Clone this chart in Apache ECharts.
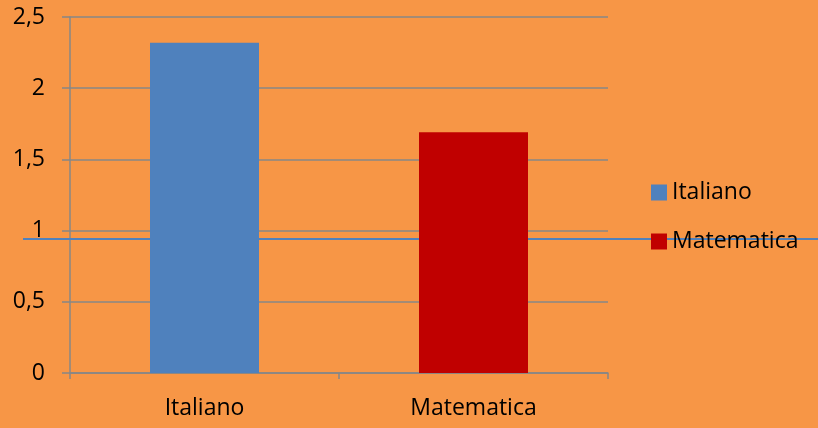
<!DOCTYPE html>
<html>
<head>
<meta charset="utf-8">
<script src="https://cdn.jsdelivr.net/npm/echarts@6/dist/echarts.min.js"></script>
<style>
html,body{margin:0;padding:0;background:#F79646;}
#chart{width:818px;height:428px;}
</style>
</head>
<body>
<div id="chart"></div>
<script>
const categories = ['Italiano', 'Matematica'];
const seriesNames = ['Italiano', 'Matematica'];
const values = [2.32, 1.69];
const colors = ['#4F81BD', '#C00000'];
const yTicks = { min: 0, max: 2.5, interval: 0.5 };

const FONT = 'Open Sans';
const chart = echarts.init(document.getElementById('chart'), null, { renderer: 'canvas' });

const series = seriesNames.map((name, i) => ({
  name: name,
  type: 'bar',
  barWidth: 109,
  barGap: '-100%',
  z: 3,
  itemStyle: { color: colors[i] },
  data: categories.map((c, j) => (j === i ? values[i] : '-'))
}));

chart.setOption({
  backgroundColor: '#F79646',
  animation: false,
  textStyle: { fontFamily: FONT },
  grid: { left: 70, right: 210, top: 17, bottom: 55, containLabel: false },
  legend: {
    orient: 'vertical',
    left: 646,
    top: 176,
    itemWidth: 16,
    itemHeight: 16,
    itemGap: 26,
    icon: 'rect',
    textStyle: { fontFamily: FONT, fontSize: 23, color: '#000' },
    data: seriesNames
  },
  graphic: [{
    type: 'line',
    z: 1,
    shape: { x1: 23, y1: 239, x2: 818, y2: 239 },
    style: { stroke: '#4F81BD', lineWidth: 2 }
  }],
  xAxis: {
    type: 'category',
    data: categories,
    boundaryGap: true,
    axisLine: { lineStyle: { color: '#878787', width: 1.5 } },
    axisTick: { show: true, length: 6, alignWithLabel: false, lineStyle: { color: '#878787', width: 1.5 } },
    axisLabel: { color: '#000', fontSize: 23, fontFamily: FONT, margin: 24 },
    splitLine: { show: false }
  },
  yAxis: {
    type: 'value',
    min: yTicks.min,
    max: yTicks.max,
    interval: yTicks.interval,
    axisLine: { show: true, lineStyle: { color: '#878787', width: 1.5 } },
    axisTick: { show: true, length: 8, lineStyle: { color: '#878787', width: 1.5 } },
    axisLabel: {
      color: '#000', fontSize: 23, fontFamily: FONT, margin: 25,
      formatter: v => String(v).replace('.', ',')
    },
    splitLine: { show: true, lineStyle: { color: '#878787', width: 1.5 } }
  },
  series: series
});
</script>
</body>
</html>
